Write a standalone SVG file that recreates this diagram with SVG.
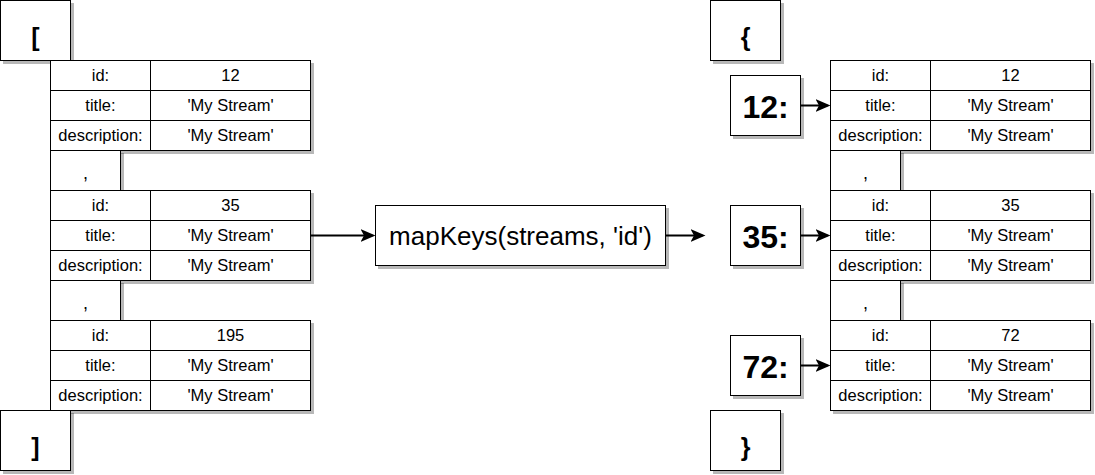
<svg xmlns="http://www.w3.org/2000/svg" xmlns:xlink="http://www.w3.org/1999/xlink" width="1095" height="475" viewBox="0 0 1095 475">
<style>
.box{fill:#fff;stroke:#000;stroke-width:1}
.ln{stroke:#000;stroke-width:1;fill:none}
.sh{filter:url(#shadow)}
.t{font-family:"Liberation Sans",Arial,Helvetica,sans-serif;font-size:16.5px;text-anchor:middle;fill:#000}
.cm{font-size:18px}
.big{font-size:26px}
.lbl{font-size:32px;font-weight:bold}
.br{font-size:25px;font-weight:bold}
.conn{stroke:#000;stroke-width:2;fill:none;marker-end:url(#ah)}
</style>
<defs>
<filter id="shadow" x="-10%" y="-10%" width="130%" height="130%">
<feDropShadow dx="3" dy="3" stdDeviation="0.6" flood-color="#000" flood-opacity="0.28"/>
</filter>
<marker id="ah" viewBox="0 0 15 13" refX="12" refY="6.5" markerWidth="15" markerHeight="13" markerUnits="userSpaceOnUse" orient="auto">
<path d="M0,0 L15,6.5 L0,13 L3.5,6.5 Z" fill="#000"/>
</marker>
<g id="tbl">
<rect class="box" x="0" y="0" width="260" height="90"/>
<path class="ln" d="M100,0V90M0,30H260M0,60H260"/>
</g>
<rect id="comma" class="box" x="0" y="0" width="70" height="40"/>
<rect id="sq" class="box" x="0" y="0" width="70" height="60"/>
</defs>
<g transform="translate(0.5,0.5)">
<!-- Left array -->
<g id="open-bracket">
<use xlink:href="#sq" x="0" y="0" class="sh"/>
<text class="t br" x="35" y="45">[</text>
</g>
<g id="stream-12">
<use xlink:href="#tbl" x="50" y="60" class="sh"/>
<text class="t" x="100" y="80.5">id:</text><text class="t" x="230" y="80.5">12</text>
<text class="t" x="100" y="110.5">title:</text><text class="t" x="230" y="110.5">'My Stream'</text>
<text class="t" x="100" y="140.5">description:</text><text class="t" x="230" y="140.5">'My Stream'</text>
</g>
<g id="comma-1">
<use xlink:href="#comma" x="50" y="150" class="sh"/>
<text class="t cm" x="85" y="178">,</text>
</g>
<g id="stream-35">
<use xlink:href="#tbl" x="50" y="190" class="sh"/>
<text class="t" x="100" y="210.5">id:</text><text class="t" x="230" y="210.5">35</text>
<text class="t" x="100" y="240.5">title:</text><text class="t" x="230" y="240.5">'My Stream'</text>
<text class="t" x="100" y="270.5">description:</text><text class="t" x="230" y="270.5">'My Stream'</text>
</g>
<g id="comma-2">
<use xlink:href="#comma" x="50" y="280" class="sh"/>
<text class="t cm" x="85" y="308">,</text>
</g>
<g id="stream-195">
<use xlink:href="#tbl" x="50" y="320" class="sh"/>
<text class="t" x="100" y="340.5">id:</text><text class="t" x="230" y="340.5">195</text>
<text class="t" x="100" y="370.5">title:</text><text class="t" x="230" y="370.5">'My Stream'</text>
<text class="t" x="100" y="400.5">description:</text><text class="t" x="230" y="400.5">'My Stream'</text>
</g>
<g id="close-bracket">
<use xlink:href="#sq" x="0" y="410" class="sh"/>
<text class="t br" x="35" y="455">]</text>
</g>

<!-- Function -->
<g id="mapKeys">
<rect class="box sh" x="375" y="205" width="290" height="60"/>
<text class="t big" x="520" y="244">mapKeys(streams, 'id')</text>
</g>

<!-- Right object -->
<g id="open-brace">
<use xlink:href="#sq" x="710" y="0" class="sh"/>
<text class="t br" x="745" y="45">{</text>
</g>
<g id="key-12">
<use xlink:href="#sq" x="730" y="75" class="sh"/>
<text class="t lbl" x="765" y="117">12:</text>
</g>
<g id="obj-12">
<use xlink:href="#tbl" x="830" y="60" class="sh"/>
<text class="t" x="880" y="80.5">id:</text><text class="t" x="1010" y="80.5">12</text>
<text class="t" x="880" y="110.5">title:</text><text class="t" x="1010" y="110.5">'My Stream'</text>
<text class="t" x="880" y="140.5">description:</text><text class="t" x="1010" y="140.5">'My Stream'</text>
</g>
<g id="comma-3">
<use xlink:href="#comma" x="830" y="150" class="sh"/>
<text class="t cm" x="865" y="178">,</text>
</g>
<g id="key-35">
<use xlink:href="#sq" x="730" y="205" class="sh"/>
<text class="t lbl" x="765" y="247">35:</text>
</g>
<g id="obj-35">
<use xlink:href="#tbl" x="830" y="190" class="sh"/>
<text class="t" x="880" y="210.5">id:</text><text class="t" x="1010" y="210.5">35</text>
<text class="t" x="880" y="240.5">title:</text><text class="t" x="1010" y="240.5">'My Stream'</text>
<text class="t" x="880" y="270.5">description:</text><text class="t" x="1010" y="270.5">'My Stream'</text>
</g>
<g id="comma-4">
<use xlink:href="#comma" x="830" y="280" class="sh"/>
<text class="t cm" x="865" y="308">,</text>
</g>
<g id="key-72">
<use xlink:href="#sq" x="730" y="335" class="sh"/>
<text class="t lbl" x="765" y="377">72:</text>
</g>
<g id="obj-72">
<use xlink:href="#tbl" x="830" y="320" class="sh"/>
<text class="t" x="880" y="340.5">id:</text><text class="t" x="1010" y="340.5">72</text>
<text class="t" x="880" y="370.5">title:</text><text class="t" x="1010" y="370.5">'My Stream'</text>
<text class="t" x="880" y="400.5">description:</text><text class="t" x="1010" y="400.5">'My Stream'</text>
</g>
<g id="close-brace">
<use xlink:href="#sq" x="710" y="410" class="sh"/>
<text class="t br" x="745" y="455">}</text>
</g>

<!-- Connectors -->
<g id="connectors">
<path class="conn" d="M310,235H372"/>
<path class="conn" d="M665,235H702"/>
<path class="conn" d="M800,105H827"/>
<path class="conn" d="M800,235H827"/>
<path class="conn" d="M800,365H827"/>
</g>
</g>
</svg>
